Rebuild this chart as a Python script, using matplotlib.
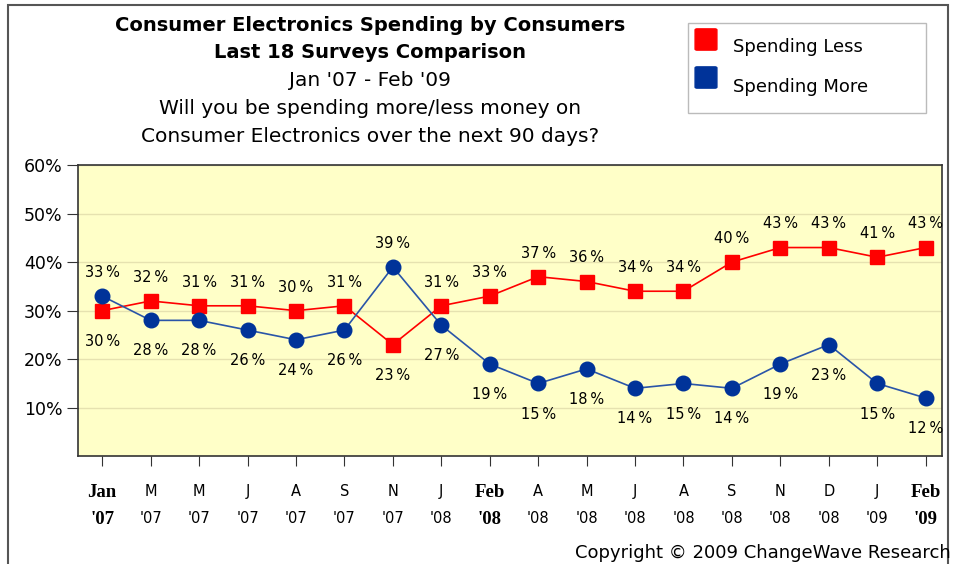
import matplotlib.pyplot as plt
from matplotlib.patches import Rectangle, FancyBboxPatch

# --- data ---
meses = ["Jan\n'07", "M\n'07", "M\n'07", "J\n'07", "A\n'07", "S\n'07", "N\n'07", "J\n'08",
         "Feb\n'08", "A\n'08", "M\n'08", "J\n'08", "A\n'08", "S\n'08", "N\n'08", "D\n'08",
         "J\n'09", "Feb\n'09"]
negritas = [0, 8, 17]  # etiquetas en negrita
gasta_menos = [30, 32, 31, 31, 30, 31, 23, 31, 33, 37, 36, 34, 34, 40, 43, 43, 41, 43]
gasta_mas = [33, 28, 28, 26, 24, 26, 39, 27, 19, 15, 18, 14, 15, 14, 19, 23, 15, 12]

rojo = '#ff0000'
azul = '#003399'

plt.rcParams['font.family'] = ['DejaVu Sans']

fig = plt.figure(figsize=(9.56, 5.64), dpi=100)
ax = fig.add_axes([0.0816, 0.191, 0.9034, 0.5164])
ax.set_facecolor('#ffffc8')

x = list(range(len(meses)))
ax.plot(x, gasta_menos, color=rojo, lw=1.2, marker='s', ms=10.5, mec=rojo, mfc=rojo, zorder=3)
ax.plot(x, gasta_mas, color='#2a55a8', lw=1.2, marker='o', ms=10.5, mec=azul, mfc=azul, zorder=3)

# etiquetas: la serie mas alta arriba, la mas baja abajo
for i in x:
    for v, otro in ((gasta_menos[i], gasta_mas[i]), (gasta_mas[i], gasta_menos[i])):
        dy = 17 if v >= otro else -22
        ax.annotate(f'{v}\u2009%', (i, v), xytext=(0, dy), textcoords='offset points',
                    ha='center', va='center', fontsize=10.5)

ax.set_xlim(-0.5, 17.33)
ax.set_ylim(0, 60)
ax.set_yticks([10, 20, 30, 40, 50, 60])
ax.set_yticklabels([f'{t}%' for t in [10, 20, 30, 40, 50, 60]], fontsize=12.5)
ax.yaxis.grid(True, color='#e6e2b0', lw=1)
ax.set_axisbelow(True)
ax.set_xticks(x)
ax.set_xticklabels(meses, fontsize=10.5, linespacing=2.0)
for i, lab in enumerate(ax.get_xticklabels()):
    if i in negritas:
        lab.set_fontweight('bold')
        lab.set_family('Liberation Serif')
        lab.set_fontsize(13.5)
        lab.set_linespacing(1.75)
ax.tick_params(axis='x', length=7, pad=13, color='#333333')
ax.tick_params(axis='y', length=8, pad=3, color='#333333')
for s in ax.spines.values():
    s.set_color('#333333')
    s.set_linewidth(1.2)

# titulo
cx = 0.387
fig.text(cx, 0.955, 'Consumer Electronics Spending by Consumers', ha='center', va='center',
         fontsize=14, fontweight='bold')
fig.text(cx, 0.907, 'Last 18 Surveys Comparison', ha='center', va='center',
         fontsize=14, fontweight='bold')
fig.text(cx, 0.858, "Jan '07 - Feb '09", ha='center', va='center', fontsize=14.5)
fig.text(cx, 0.808, 'Will you be spending more/less money on', ha='center', va='center',
         fontsize=14.5)
fig.text(cx, 0.758, 'Consumer Electronics over the next 90 days?', ha='center', va='center',
         fontsize=14.5)

# leyenda
fig.patches.append(Rectangle((688 / 956, 1 - 113 / 564), 238 / 956, 90 / 564,
                             transform=fig.transFigure, fc='white', ec='#bbbbbb', lw=1))
for k, (nom, col) in enumerate((('Spending Less', rojo), ('Spending More', azul))):
    ytop = 30 + 38 * k
    fig.patches.append(FancyBboxPatch((697 / 956, 1 - (ytop + 19) / 564), 18 / 956, 19 / 564,
                                      boxstyle='round,pad=0.002', transform=fig.transFigure,
                                      fc=col, ec=col))
    fig.text(733 / 956, 1 - (47 + 40 * k) / 564, nom, ha='left', va='center', fontsize=13)

fig.text(575 / 956, 1 - 553 / 564, 'Copyright \u00a9 2009 ChangeWave Research', ha='left',
         va='center', fontsize=13)

# marco
fig.patches.append(Rectangle((8 / 956, -0.01), 940 / 956, 1 - 5 / 564 + 0.01,
                             transform=fig.transFigure, fc='none', ec='#555555', lw=1.5))

fig.savefig('out.png', dpi=100)
